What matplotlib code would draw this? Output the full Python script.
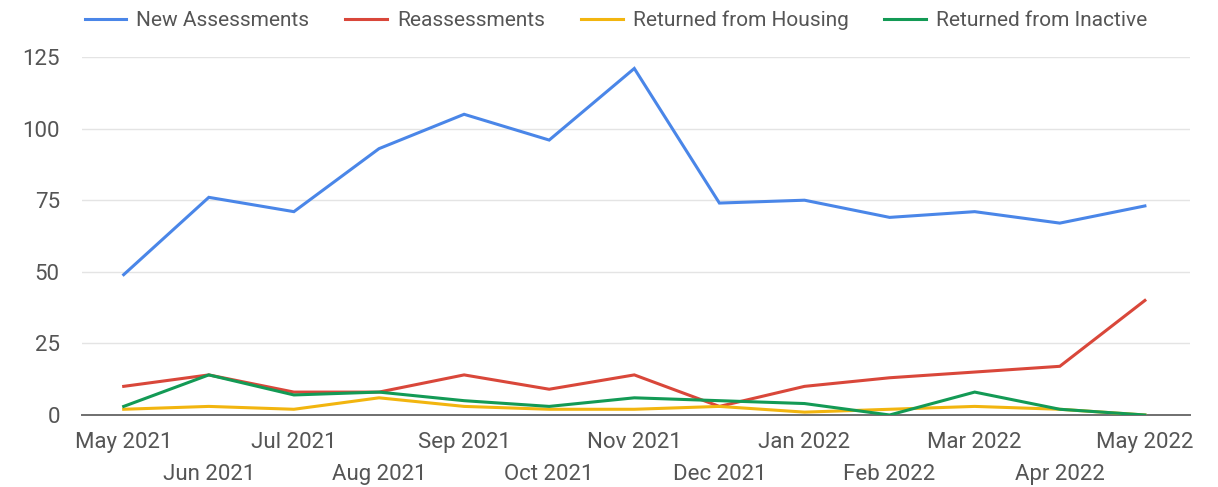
import matplotlib
matplotlib.use("Agg")
import matplotlib.pyplot as plt

plt.rcParams["font.family"] = ["Roboto", "DejaVu Sans"]

# ---------------------------------------------------------------------------
# Data
# ---------------------------------------------------------------------------
months = ["May 2021", "Jun 2021", "Jul 2021", "Aug 2021", "Sep 2021",
          "Oct 2021", "Nov 2021", "Dec 2021", "Jan 2022", "Feb 2022",
          "Mar 2022", "Apr 2022", "May 2022"]

new_assessments = [49, 76, 71, 93, 105, 96, 121, 74, 75, 69, 71, 67, 73]
reassessments = [10, 14, 8, 8, 14, 9, 14, 3, 10, 13, 15, 17, 40]
returned_housing = [2, 3, 2, 6, 3, 2, 2, 3, 1, 2, 3, 2, 0]
returned_inactive = [3, 14, 7, 8, 5, 3, 6, 5, 4, 0, 8, 2, 0]

y_ticks = [0, 25, 50, 75, 100, 125]

TEXT = "#555555"
series = [
    ("New Assessments", new_assessments, "#4a86e8"),
    ("Reassessments", reassessments, "#d9473a"),
    ("Returned from Housing", returned_housing, "#f2b50f"),
    ("Returned from Inactive", returned_inactive, "#139a55"),
]

# ---------------------------------------------------------------------------
# Plot
# ---------------------------------------------------------------------------
fig = plt.figure(figsize=(12.18, 4.87), dpi=100)
ax = fig.add_axes([82 / 1218, 72 / 487, (1190 - 82) / 1218, (415 - 57) / 487])

x = list(range(len(months)))
for name, vals, color in series:
    ax.plot(x, vals, color=color, linewidth=2.2, label=name,
            solid_joinstyle="miter", zorder=3)

ax.set_xlim(-0.49, len(months) - 1 + 0.53)
ax.set_ylim(0, 125)
ax.set_yticks(y_ticks)
ax.yaxis.grid(True, color="#e4e4e4", linewidth=1.0)
ax.set_axisbelow(True)

for side in ["top", "right", "left"]:
    ax.spines[side].set_visible(False)
ax.spines["bottom"].set_color("#6f6f6f")
ax.spines["bottom"].set_linewidth(1.4)
ax.spines["bottom"].set_zorder(2)

ax.tick_params(axis="y", length=0, pad=16, labelsize=16, labelcolor=TEXT)
ax.set_xticks(x)
ax.set_xticklabels(months)
ax.tick_params(axis="x", length=0, labelsize=16, labelcolor=TEXT)
for i, tick in enumerate(ax.xaxis.get_major_ticks()):
    tick.set_pad(12 if i % 2 == 0 else 35)

fig.legend(loc="upper center", bbox_to_anchor=(0.5057, 1.016), ncol=4,
           frameon=False, fontsize=15, labelcolor=TEXT,
           handlelength=2.0, handletextpad=0.48, columnspacing=1.73)

plt.savefig("out.png", dpi=100)
